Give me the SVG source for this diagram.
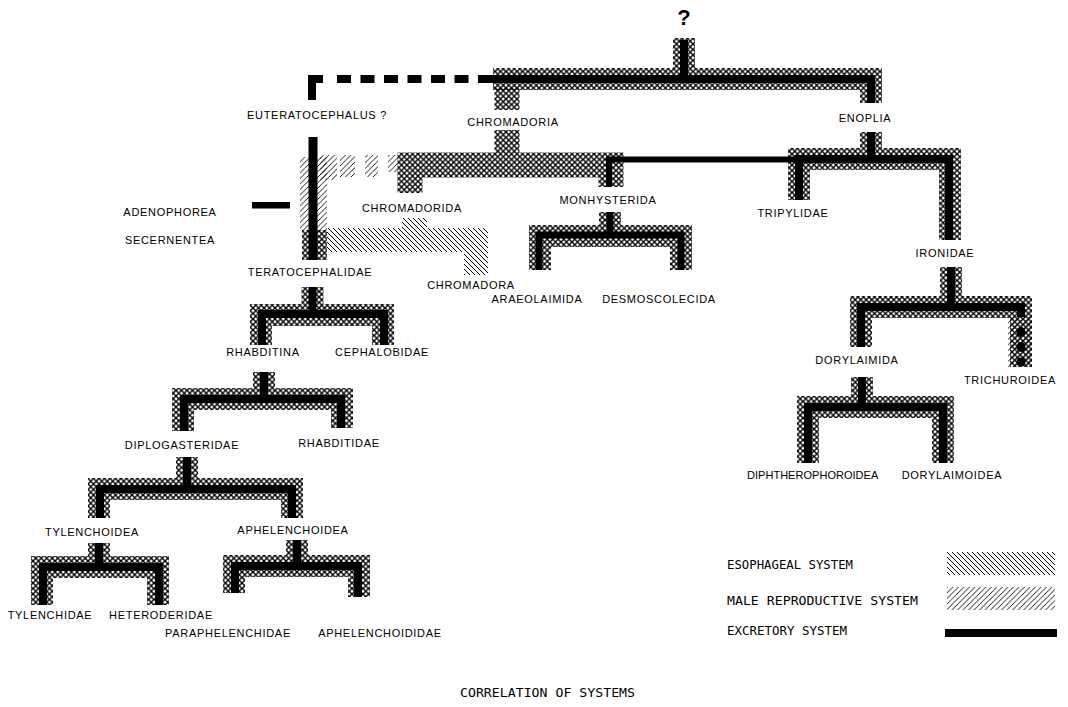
<svg xmlns="http://www.w3.org/2000/svg" width="1068" height="707" viewBox="0 0 1068 707">
<defs>
<pattern id="xh" patternUnits="userSpaceOnUse" width="5.5" height="5.5"><path d="M0,0 L5.5,5.5 M5.5,0 L0,5.5" stroke="#000" stroke-width="1.4"/></pattern>
<pattern id="eso" patternUnits="userSpaceOnUse" width="5" height="5"><path d="M0,0 L5,5 M-1,4 L1,6 M4,-1 L6,1" stroke="#000" stroke-width="1"/></pattern>
<pattern id="male" patternUnits="userSpaceOnUse" width="5.5" height="5.5"><path d="M5.5,0 L0,5.5 M-1,1 L1,-1 M4.5,6.5 L6.5,4.5" stroke="#000" stroke-width="0.9"/></pattern>
</defs>
<style>
.x{fill:none;stroke:url(#xh);stroke-width:22;stroke-linejoin:miter;stroke-linecap:butt}
.b{fill:none;stroke:#000;stroke-width:8;stroke-linejoin:miter;stroke-linecap:butt}
.e{fill:none;stroke:url(#eso);stroke-width:24;stroke-linejoin:miter}
.t{font-family:"Liberation Sans",Arial,sans-serif;font-size:11px;letter-spacing:0.7px;fill:#000;text-anchor:middle}
.lg{font-family:"DejaVu Sans Mono","Liberation Mono",monospace;font-size:11.5px;fill:#000}
</style>
<rect width="1068" height="707" fill="#fff"/>
<g id="connectors">
  <path class="x" d="M684,38 V79 M493,79 H871 V103"/>
  <path class="b" d="M684,40 V79 M478,79 H871 V103"/>
  <path class="b" d="M337,79 H478" stroke-dasharray="14 9.5"/>
  <path class="b" d="M312,100 V79 H323"/>
  <path class="x" style="stroke-width:25" d="M507,88 V110 M507,130 V165 M410,193 V165 H611 V187"/>
  <path class="b" style="stroke-width:6" d="M609,187 V159.5 H800"/>
  <path class="x" d="M871,132 V159 M799,200 V159 H950 V240"/>
  <path class="b" d="M871,132 V159 M799,200 V159 H949 V240"/>
  <path class="x" d="M610,212 V235 M540,270 V236 H681 V270"/>
  <path class="b" style="stroke-width:7" d="M610,212 V235 M539,270 V235 H681 V270"/>
  <rect x="300" y="157" width="27" height="73" fill="url(#male)"/>
  <rect x="302" y="230" width="25" height="30" fill="url(#xh)"/>
  <path class="e" d="M327,240 H476 V275"/>
  <rect x="402" y="218" width="25" height="10" fill="url(#eso)"/>
  <rect x="320" y="155" width="17" height="25" fill="url(#male)"/>
  <rect x="340" y="155" width="15" height="22" fill="url(#male)"/>
  <rect x="365" y="155" width="13" height="22" fill="url(#male)"/>
  <rect x="388" y="155" width="10" height="17" fill="url(#male)"/>
  <path class="b" style="stroke-width:9" d="M313,137 V260"/>
  <rect x="252" y="202" width="38" height="6.5" fill="#000"/>
  <path class="x" d="M312.5,287 V315 M261,345 V315 H383 V345"/>
  <path class="b" d="M312.5,287 V314 M262,345 V314 H384 V345"/>
  <path class="x" d="M264,372 V399 M183,431 V399 H342 V428"/>
  <path class="b" d="M264,372 V399 M184,431 V399 H341 V428"/>
  <path class="x" d="M187,457 V489 M99,518 V489 H292 V518"/>
  <path class="b" d="M187,457 V489 M100,518 V489 H292 V518"/>
  <path class="x" d="M99,543 V567 M42,605 V567 H158 V605"/>
  <path class="b" d="M99,543 V567 M43,605 V567 H159 V605"/>
  <path class="x" d="M297,540 V566 M234,593 V566 H359 V597"/>
  <path class="b" d="M297,540 V566 M235,593 V566 H358 V597"/>
  <path class="x" d="M951,267 V307 M861,347 V307 H1021 V367"/>
  <rect x="1008" y="317" width="24" height="50" fill="url(#male)"/>
  <path class="b" d="M951,267 V307 M861,347 V307 H1021 V317"/>
  <ellipse cx="1021" cy="332" rx="4.5" ry="5" fill="#000"/>
  <ellipse cx="1021" cy="347" rx="4.5" ry="5" fill="#000"/>
  <ellipse cx="1021" cy="362" rx="4.5" ry="4.5" fill="#000"/>
  <path class="x" d="M862,377 V407 M808,463 V407 H943 V463"/>
  <path class="b" d="M862,377 V407 M808,463 V407 H943 V463"/>
</g>
<g id="n-root"><text x="684" y="25" style="font-family:'Liberation Sans',Arial,sans-serif;font-size:22px;font-weight:bold;text-anchor:middle">?</text></g>
<g id="n-euteratocephalus"><text class="t" x="317" y="119">EUTERATOCEPHALUS ?</text></g>
<g id="n-chromadoria"><text class="t" x="513" y="126">CHROMADORIA</text></g>
<g id="n-enoplia"><text class="t" x="865" y="122">ENOPLIA</text></g>
<g id="n-adenophorea"><text class="t" x="170" y="216">ADENOPHOREA</text></g>
<g id="n-secernentea"><text class="t" x="170" y="244">SECERNENTEA</text></g>
<g id="n-chromadorida"><text class="t" x="412" y="212">CHROMADORIDA</text></g>
<g id="n-monhysterida"><text class="t" x="608" y="204">MONHYSTERIDA</text></g>
<g id="n-tripylidae"><text class="t" x="793" y="217">TRIPYLIDAE</text></g>
<g id="n-teratocephalidae"><text class="t" x="310" y="276">TERATOCEPHALIDAE</text></g>
<g id="n-chromadora"><text class="t" x="471" y="289">CHROMADORA</text></g>
<g id="n-araeolaimida"><text class="t" x="537" y="303">ARAEOLAIMIDA</text></g>
<g id="n-desmoscolecida"><text class="t" x="659" y="303">DESMOSCOLECIDA</text></g>
<g id="n-ironidae"><text class="t" x="945" y="257">IRONIDAE</text></g>
<g id="n-rhabditina"><text class="t" x="263" y="356">RHABDITINA</text></g>
<g id="n-cephalobidae"><text class="t" x="382" y="356">CEPHALOBIDAE</text></g>
<g id="n-dorylaimida"><text class="t" x="857" y="364">DORYLAIMIDA</text></g>
<g id="n-trichuroidea"><text class="t" x="1010" y="384">TRICHUROIDEA</text></g>
<g id="n-diplogasteridae"><text class="t" x="182" y="449">DIPLOGASTERIDAE</text></g>
<g id="n-rhabditidae"><text class="t" x="339" y="447">RHABDITIDAE</text></g>
<g id="n-tylenchoidea"><text class="t" x="92" y="536">TYLENCHOIDEA</text></g>
<g id="n-aphelenchoidea"><text class="t" x="293" y="534">APHELENCHOIDEA</text></g>
<g id="n-tylenchidae"><text class="t" x="50" y="619">TYLENCHIDAE</text></g>
<g id="n-heteroderidae"><text class="t" x="161" y="619">HETERODERIDAE</text></g>
<g id="n-paraphelenchidae"><text class="t" x="228" y="637">PARAPHELENCHIDAE</text></g>
<g id="n-aphelenchoididae"><text class="t" x="380" y="637">APHELENCHOIDIDAE</text></g>
<g id="n-diphtherophoroidea"><text class="t" x="813" y="479" textLength="132" lengthAdjust="spacing">DIPHTHEROPHOROIDEA</text></g>
<g id="n-dorylaimoidea"><text class="t" x="952" y="479">DORYLAIMOIDEA</text></g>
<g id="legend">
  <text class="lg" x="727" y="569" textLength="126" lengthAdjust="spacingAndGlyphs">ESOPHAGEAL SYSTEM</text>
  <text class="lg" x="727" y="605" textLength="191" lengthAdjust="spacingAndGlyphs">MALE REPRODUCTIVE SYSTEM</text>
  <text class="lg" x="727" y="635" textLength="120" lengthAdjust="spacingAndGlyphs">EXCRETORY SYSTEM</text>
  <rect x="947" y="552" width="108" height="23" fill="url(#eso)"/>
  <rect x="947" y="587" width="108" height="23" fill="url(#male)"/>
  <rect x="945" y="629" width="112" height="8" fill="#000"/>
</g>
<g id="caption"><text class="lg" x="460" y="697" textLength="175" lengthAdjust="spacingAndGlyphs">CORRELATION OF SYSTEMS</text></g>
</svg>
